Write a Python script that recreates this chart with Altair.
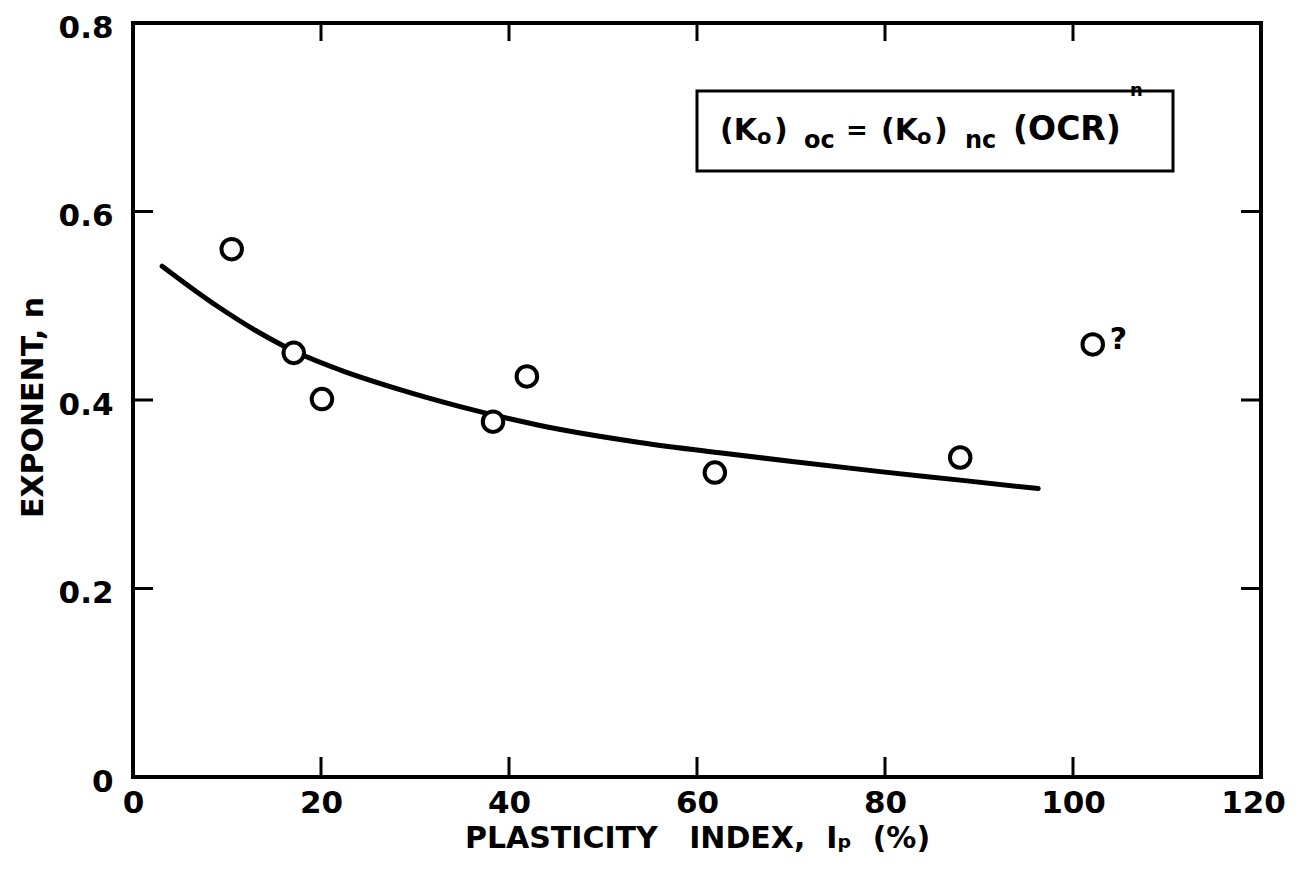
import altair as alt
import pandas as pd

# ---- data ----
ip_points = [10.5, 17.1, 20.1, 38.3, 41.9, 61.9, 88.0, 102.1]
n_points = [0.560, 0.450, 0.401, 0.377, 0.425, 0.323, 0.339, 0.459]
point_notes = ["", "", "", "", "", "", "", "?"]

ip_curve = [3.1, 8.9, 13.0, 17.1, 22.0, 28.4, 34.8, 43.3, 53.9, 62.4, 69.9, 79.5, 88.0, 96.3]
n_curve = [0.542, 0.500, 0.474, 0.452, 0.432, 0.411, 0.393, 0.373, 0.355, 0.344, 0.335, 0.324, 0.315, 0.306]

x_tick_values = [0, 20, 40, 60, 80, 100, 120]
y_tick_values = [0, 0.2, 0.4, 0.6, 0.8]
inner_x_ticks = [20, 40, 60, 80, 100]
inner_y_ticks = [0.2, 0.4, 0.6]

NB = "\u00a0"
x_title = "PLASTICITY" + NB * 2 + " INDEX," + NB + " Iₚ" + NB + " (%)"
y_title = "EXPONENT, n"

# equation pieces: text, left x (px), baseline y (px), font size
eq_text = ["(K", "o", ")", "oc", "=", "(K", "o", ")", "nc", "(OCR)", "n"]
eq_x = [587, 624, 641, 671, 713, 748, 784, 801, 832, 880, 997]
eq_y = [117, 121, 117, 125, 116, 117, 121, 117, 125, 117, 73]
eq_size = [30, 21, 30, 24, 26, 30, 21, 30, 24, 33, 18]

W, H = 1128, 754
FONT = "DejaVu Sans"

pts = pd.DataFrame({"ip": ip_points, "n": n_points, "note": point_notes})
curve = pd.DataFrame({"ip": ip_curve, "n": n_curve})

xscale = alt.Scale(domain=[0, 120], nice=False, zero=False)
yscale = alt.Scale(domain=[0, 0.8], nice=False, zero=False)

x_axis = alt.Axis(
    values=x_tick_values, title=x_title,
    ticks=False, tickSize=0, domain=False, grid=False, labelFlush=False,
    labelOffset={"condition": {"test": "datum.value >= 120", "value": -8}, "value": 0},
    labelPadding=11, labelFontSize=31, labelFont=FONT, labelFontWeight="bold",
    labelColor="black", titleFont=FONT, titleFontSize=30, titleFontWeight="bold",
    titleColor="black", titleY=70, titleBaseline="alphabetic",
)
y_axis = alt.Axis(
    values=y_tick_values, title=y_title,
    labelExpr="datum.value == 0 ? '0' : format(datum.value, '.1f')",
    ticks=False, tickSize=0, domain=False, grid=False, labelFlush=False,
    labelOffset=5,
    labelPadding=20, labelFontSize=31, labelFont=FONT, labelFontWeight="bold",
    labelColor="black", titleFont=FONT, titleFontSize=30, titleFontWeight="bold",
    titleColor="black", titleX=-91, titleY=384, titleAngle=270,
    titleBaseline="alphabetic", titleAlign="center",
)


def X(field):
    return alt.X(field, scale=xscale, axis=x_axis)


def Y(field):
    return alt.Y(field, scale=yscale, axis=y_axis)


line = alt.Chart(curve).mark_line(
    color="black", strokeWidth=5, interpolate="monotone", strokeCap="round"
).encode(x=X("ip:Q"), y=Y("n:Q"))

points = alt.Chart(pts).mark_point(
    shape="circle", filled=True, fill="white", stroke="black",
    strokeWidth=4, size=420, opacity=1, strokeOpacity=1, fillOpacity=1,
).encode(x=X("ip:Q"), y=Y("n:Q"))

notes = alt.Chart(pts).mark_text(
    align="left", baseline="middle", dx=17, dy=-4, fontSize=30,
    font=FONT, fontWeight="bold", color="black",
).encode(x=X("ip:Q"), y=Y("n:Q"), text="note:N")

xt = pd.DataFrame({"ip": inner_x_ticks})
yt = pd.DataFrame({"n": inner_y_ticks})
tick_style = dict(color="black", strokeWidth=3)
bottom_ticks = alt.Chart(xt).mark_rule(**tick_style).encode(
    x=X("ip:Q"), y=alt.value(H), y2=alt.value(H - 20))
top_ticks = alt.Chart(xt).mark_rule(**tick_style).encode(
    x=X("ip:Q"), y=alt.value(0), y2=alt.value(18))
left_ticks = alt.Chart(yt).mark_rule(**tick_style).encode(
    y=Y("n:Q"), x=alt.value(0), x2=alt.value(20))
right_ticks = alt.Chart(yt).mark_rule(**tick_style).encode(
    y=Y("n:Q"), x=alt.value(W), x2=alt.value(W - 20))

box = alt.Chart(pd.DataFrame({"a": [0]})).mark_rect(
    fill="white", stroke="black", strokeWidth=3
).encode(x=alt.value(564), x2=alt.value(1040), y=alt.value(68), y2=alt.value(148))

eq_layers = []
for t, px, py, fs in zip(eq_text, eq_x, eq_y, eq_size):
    eq_layers.append(
        alt.Chart(pd.DataFrame({"t": [t]})).mark_text(
            align="left", baseline="alphabetic", fontSize=fs, font=FONT,
            fontWeight="bold", color="black",
        ).encode(x=alt.value(px), y=alt.value(py), text="t:N")
    )

chart = alt.layer(
    line, points, notes, bottom_ticks, top_ticks, left_ticks, right_ticks, box, *eq_layers
).properties(
    width=W, height=H,
    background="white",
    autosize=alt.AutoSizeParams(type="none"),
    padding={"left": 125, "top": 15, "right": 32, "bottom": 90},
).configure_view(
    stroke="black", strokeWidth=4, fill="white"
)

chart.save("out.html", embed_options={"renderer": "svg", "actions": False})
